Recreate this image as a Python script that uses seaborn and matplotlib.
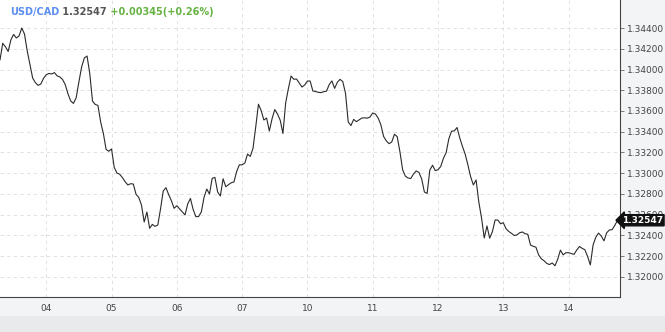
import numpy as np
import pandas as pd
import matplotlib
matplotlib.use("Agg")
import matplotlib.pyplot as plt
import matplotlib.transforms as mtransforms
import seaborn as sns

# ---------------- data (hourly closes) ----------------
pair = "USD/CAD"
last_price_text = "1.32547"
change_text = "+0.00345(+0.26%)"
month_label = "Aug/2020"

prices = [
    1.34092, 1.34253, 1.34219, 1.34174, 1.34286, 1.34338, 1.34304, 1.34323,
    1.34400, 1.34342, 1.34180, 1.34048, 1.33918, 1.33874, 1.33847, 1.33860,
    1.33915, 1.33950, 1.33962, 1.33957, 1.33970, 1.33939, 1.33928, 1.33904,
    1.33853, 1.33764, 1.33696, 1.33673, 1.33728, 1.33880, 1.34024, 1.34111,
    1.34130, 1.33961, 1.33696, 1.33663, 1.33654, 1.33494, 1.33383, 1.33229,
    1.33212, 1.33234, 1.33055, 1.33002, 1.32990, 1.32958, 1.32918, 1.32887,
    1.32899, 1.32896, 1.32798, 1.32767, 1.32694, 1.32530, 1.32626, 1.32469,
    1.32507, 1.32488, 1.32501, 1.32655, 1.32829, 1.32861, 1.32794, 1.32735,
    1.32662, 1.32687, 1.32657, 1.32626, 1.32598, 1.32704, 1.32757, 1.32650,
    1.32581, 1.32583, 1.32626, 1.32768, 1.32848, 1.32800, 1.32951, 1.32960,
    1.32819, 1.32781, 1.32947, 1.32870, 1.32890, 1.32908, 1.32916, 1.33017,
    1.33082, 1.33081, 1.33099, 1.33185, 1.33162, 1.33240, 1.33446, 1.33665,
    1.33604, 1.33513, 1.33532, 1.33407, 1.33525, 1.33614, 1.33571, 1.33511,
    1.33383, 1.33677, 1.33815, 1.33937, 1.33906, 1.33908, 1.33870, 1.33831,
    1.33851, 1.33889, 1.33889, 1.33793, 1.33788, 1.33780, 1.33777, 1.33786,
    1.33791, 1.33854, 1.33890, 1.33818, 1.33877, 1.33905, 1.33883, 1.33771,
    1.33494, 1.33460, 1.33519, 1.33497, 1.33515, 1.33532, 1.33534, 1.33531,
    1.33542, 1.33581, 1.33571, 1.33532, 1.33467, 1.33355, 1.33312, 1.33285,
    1.33302, 1.33376, 1.33353, 1.33208, 1.33034, 1.32972, 1.32954, 1.32949,
    1.32993, 1.33022, 1.33008, 1.32945, 1.32819, 1.32805, 1.33031, 1.33077,
    1.33025, 1.33034, 1.33065, 1.33144, 1.33199, 1.33334, 1.33406, 1.33408,
    1.33441, 1.33340, 1.33258, 1.33183, 1.33079, 1.32966, 1.32887, 1.32935,
    1.32723, 1.32569, 1.32376, 1.32492, 1.32374, 1.32437, 1.32550, 1.32548,
    1.32513, 1.32523, 1.32466, 1.32439, 1.32421, 1.32400, 1.32405, 1.32426,
    1.32434, 1.32417, 1.32412, 1.32308, 1.32296, 1.32287, 1.32212, 1.32175,
    1.32156, 1.32130, 1.32120, 1.32135, 1.32108, 1.32171, 1.32259, 1.32213,
    1.32234, 1.32234, 1.32226, 1.32218, 1.32260, 1.32294, 1.32276, 1.32262,
    1.32197, 1.32116, 1.32308, 1.32383, 1.32423, 1.32395, 1.32348, 1.32426,
    1.32453, 1.32456, 1.32498, 1.32547,
]
start_time = "2020-08-03 07:00"
y_ticks = [1.32000, 1.32200, 1.32400, 1.32600, 1.32800, 1.33000, 1.33200,
           1.33400, 1.33600, 1.33800, 1.34000, 1.34200, 1.34400]

# ---------------- build trading-hour timeline (weekend skipped) ----------------
all_hours = pd.date_range(start_time, periods=len(prices) + 48, freq="h")
trading = all_hours[all_hours.dayofweek < 5][: len(prices)]
df = pd.DataFrame({"time": trading, "price": prices})
df["idx"] = np.arange(len(df))
midnights = df[(df["time"].dt.hour == 0)]
tick_pos = midnights["idx"].tolist()
tick_lab = midnights["time"].dt.strftime("%d").tolist()

# ---------------- figure ----------------
sns.set_style("white")
plt.rcParams["font.family"] = ["DejaVu Sans"]
W, H = 665, 332
fig = plt.figure(figsize=(W / 100, H / 100), dpi=100, facecolor="#f3f4f6")
# darker lower band
fig.patches.append(plt.Rectangle((0, 0), 1, 16 / H, transform=fig.transFigure,
                                 facecolor="#e9eaec", edgecolor="none", zorder=0))
ax = fig.add_axes([0, 1 - 297 / H, 620 / W, 297 / H])
ax.set_facecolor("white")

sns.lineplot(data=df, x="idx", y="price", ax=ax, color="#2b2b2b", linewidth=0.8)

ax.set_xlim(0, 227.9)
ax.set_ylim(1.31807, 1.34670)
ax.set_xticks(tick_pos)
ax.set_xticklabels(tick_lab)
ax.set_yticks(y_ticks)
ax.set_yticklabels([f"{v:.5f}" for v in y_ticks])
ax.yaxis.tick_right()
ax.set_xlabel(month_label, fontsize=6.5, color="#555555", labelpad=4)
ax.set_ylabel("")
ax.tick_params(axis="both", direction="out", length=3, width=0.6,
               colors="#666666", labelsize=6.5, labelcolor="#444444", pad=2)

ax.grid(True, color="#dcdcdc", linestyle=(0, (4, 4)), linewidth=0.6)
for s in ["left", "top"]:
    ax.spines[s].set_visible(False)
for s in ["right", "bottom"]:
    ax.spines[s].set_color("#444444")
    ax.spines[s].set_linewidth(0.8)

# last-price marker on right axis
trans = mtransforms.blended_transform_factory(fig.transFigure, ax.transData)
ax.text((W - 2) / W, prices[-1], last_price_text, transform=trans, ha="right", va="center",
        fontsize=6.5, color="white", fontweight="bold", clip_on=False, zorder=10,
        bbox=dict(boxstyle="larrow,pad=0.12", fc="#111111", ec="#111111"))

# title pieces
fig.canvas.draw()
r = fig.canvas.get_renderer()
x0 = 10 / W
y0 = 1 - 12 / H
parts = [(pair, "#5b8ef0"), (" " + last_price_text, "#555555"), (" " + change_text, "#66b344")]
for txt, col in parts:
    t = fig.text(x0, y0, txt, fontsize=7, fontweight="bold", color=col, va="center", ha="left")
    bb = t.get_window_extent(renderer=r)
    x0 += bb.width / W

fig.savefig("out.png", dpi=100, facecolor=fig.get_facecolor())
